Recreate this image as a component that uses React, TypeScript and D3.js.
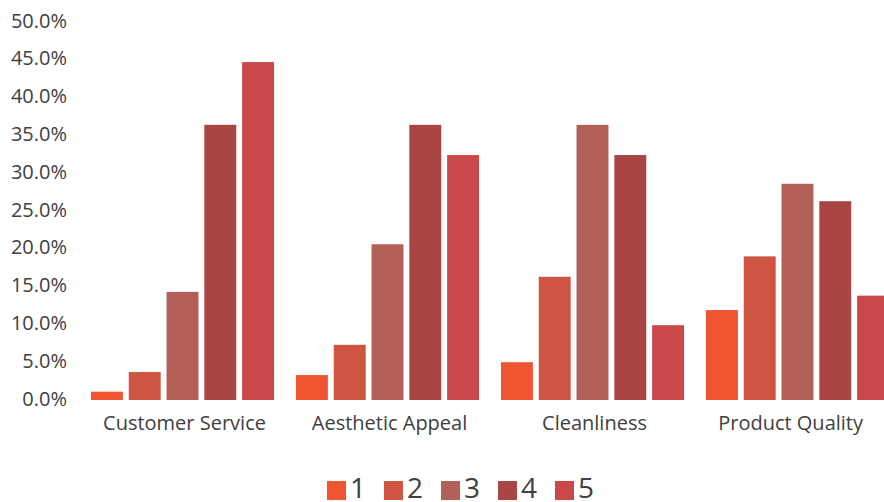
import React, { useEffect, useRef } from "react";
import * as d3 from "d3";

// Survey categories and rating shares (fraction of responses per rating 1–5)
const categories = ["Customer Service", "Aesthetic Appeal", "Cleanliness", "Product Quality"];
const ratings = ["1", "2", "3", "4", "5"];
const rating1 = [0.011, 0.033, 0.05, 0.119];
const rating2 = [0.037, 0.073, 0.163, 0.19];
const rating3 = [0.143, 0.206, 0.364, 0.286];
const rating4 = [0.364, 0.364, 0.324, 0.263];
const rating5 = [0.447, 0.324, 0.099, 0.138];
const yTicks = [0, 0.05, 0.1, 0.15, 0.2, 0.25, 0.3, 0.35, 0.4, 0.45, 0.5];

const seriesValues = [rating1, rating2, rating3, rating4, rating5];
const colors = ["#F05532", "#CD5542", "#B36058", "#A94644", "#C9484A"];

const W = 884;
const H = 502;
const FONT = "'Open Sans', sans-serif";
const TEXT = "#404040";

export default function App() {
  const ref = useRef<SVGSVGElement>(null);

  useEffect(() => {
    const svg = d3.select(ref.current);
    svg.selectAll("*").remove();

    const x0 = d3.scaleBand<string>().domain(categories).range([80, 900]).padding(0);
    const x1 = d3
      .scaleBand<string>()
      .domain(ratings)
      .range([0, x0.bandwidth()])
      .paddingInner(0.155)
      .paddingOuter(0.29);
    const y = d3.scaleLinear().domain([0, 0.5]).range([400, 22]);
    const fmt = d3.format(".1%");

    // y-axis tick labels
    svg
      .append("g")
      .selectAll("text")
      .data(yTicks)
      .join("text")
      .attr("x", 67)
      .attr("y", (d) => y(d) - 1.5)
      .attr("dy", "0.35em")
      .attr("text-anchor", "end")
      .attr("font-family", FONT)
      .attr("font-size", 20)
      .attr("fill", TEXT)
      .text((d) => fmt(d));

    // grouped bars
    const groups = svg
      .append("g")
      .selectAll("g")
      .data(categories)
      .join("g")
      .attr("transform", (c) => `translate(${x0(c)},0)`);

    groups
      .selectAll("rect")
      .data((c, ci) => ratings.map((r, ri) => ({ r, ri, v: seriesValues[ri][ci] })))
      .join("rect")
      .attr("x", (d) => x1(d.r)!)
      .attr("width", x1.bandwidth())
      .attr("y", (d) => y(d.v))
      .attr("height", (d) => y(0) - y(d.v))
      .attr("fill", (d) => colors[d.ri]);

    // category labels, kept inside the right edge
    const labels = svg
      .append("g")
      .selectAll("text")
      .data(categories)
      .join("text")
      .attr("y", 430)
      .attr("text-anchor", "middle")
      .attr("font-family", FONT)
      .attr("font-size", 20)
      .attr("fill", TEXT)
      .text((d) => d);
    labels.each(function (c) {
      const t = this as SVGTextElement;
      const half = t.getComputedTextLength() / 2;
      const cx = x0(c)! + x0.bandwidth() / 2 + 2;
      d3.select(t).attr("x", Math.min(cx, W - 21 - half));
    });

    // legend
    const legend = svg
      .append("g")
      .selectAll("g")
      .data(ratings)
      .join("g")
      .attr("transform", (_, i) => `translate(${327 + i * 57},481)`);
    legend
      .append("rect")
      .attr("width", 19)
      .attr("height", 19)
      .attr("fill", (_, i) => colors[i]);
    legend
      .append("text")
      .attr("x", 23)
      .attr("y", 17)
      .attr("font-family", FONT)
      .attr("font-size", 28)
      .attr("fill", TEXT)
      .text((d) => d);
  }, []);

  return (
    <svg
      ref={ref}
      width={W}
      height={H}
      style={{ display: "block", position: "absolute", left: 0, top: 0, background: "#fff" }}
    />
  );
}
